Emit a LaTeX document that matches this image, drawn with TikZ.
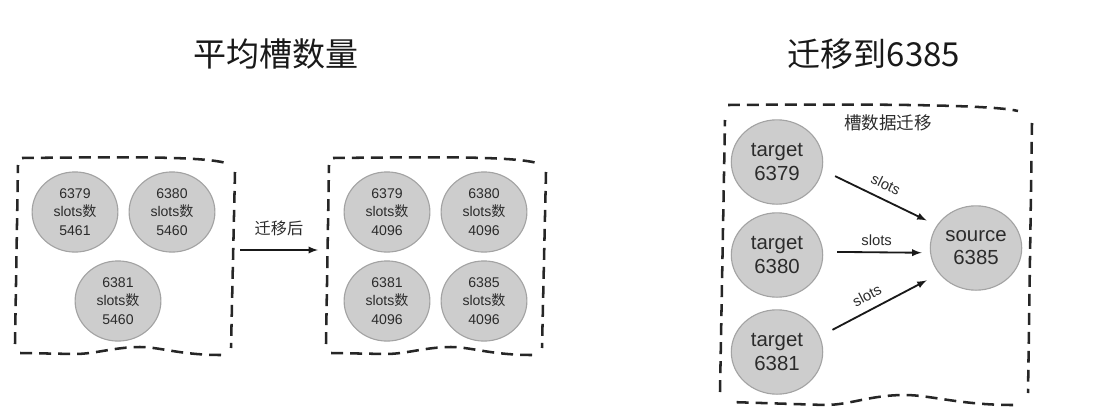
\documentclass[tikz,border=0pt]{standalone}
\usepackage{fontspec}
\setmainfont{Liberation Sans}
\newfontfamily\cjk{Noto Sans CJK SC}
\usetikzlibrary{arrows,shapes.geometric}
\definecolor{nodofill}{HTML}{CDCDCD}
\definecolor{nodobordo}{HTML}{A3A3A3}
\definecolor{testo}{HTML}{2B2B2B}
\tikzset{
	nodo/.style={ellipse, draw=nodobordo, fill=nodofill, line width=0.8pt, minimum width=61pt, minimum height=57pt, inner sep=0pt, align=center, text=testo, font=\fontsize{10}{13}\selectfont},
	nodogrande/.style={nodo, minimum width=65pt, minimum height=60pt, font=\fontsize{14.5}{16.5}\selectfont},
	bordo/.style={line width=1.8pt, dash pattern=on 8.5pt off 5pt, color=black!85},
	freccia/.style={->, >=latex, line width=1.3pt, color=black!90},
	etichetta/.style={text=testo, font=\fontsize{10.5}{12}\selectfont},
	titolo/.style={text=black!90, font=\cjk\fontsize{23.5}{28}\selectfont}
}
\begin{document}
\begin{tikzpicture}[x=0.025cm, y=-0.025cm]
		\useasboundingbox (0,0) rectangle (1104,414);
		%Titoli
		\node [titolo] (tit1) at (276,54) {平均槽数量};
		\node [titolo] (tit2) at (874,54) {迁移到6385};
		%Riquadro prima
		\draw [bordo] (22,158) .. controls (120,157) and (200,156) .. (226,163);
		\draw [bordo] (235,172) -- (231,348);
		\draw [bordo] (221,355) .. controls (180,355) and (160,347) .. (140,347) .. controls (115,347) and (95,354) .. (75,354) -- (20,353);
		\draw [bordo] (15,344) -- (18,165);
		\node [nodo] (p6379) at (75,212) {6379\\slots{\cjk 数}\\5461};
		\node [nodo] (p6380) at (172,212) {6380\\slots{\cjk 数}\\5460};
		\node [nodo] (p6381) at (118,301) {6381\\slots{\cjk 数}\\5460};
		%Freccia
		\coordinate (b1e) at (240,250);
		\coordinate (b2w) at (318,250);
		\draw [freccia] (b1e) -- (b2w) node [pos=0.5, above=6pt, etichetta, font=\cjk\fontsize{11.5}{13}\selectfont] {迁移后};
		%Riquadro dopo
		\begin{scope}[shift={(311,0)}]
			\draw [bordo] (22,158) .. controls (120,157) and (200,156) .. (226,163);
			\draw [bordo] (235,172) -- (231,348);
			\draw [bordo] (221,355) .. controls (180,355) and (160,347) .. (140,347) .. controls (115,347) and (95,354) .. (75,354) -- (20,353);
			\draw [bordo] (15,344) -- (18,165);
		\end{scope}
		\node [nodo] (q6379) at (387,212) {6379\\slots{\cjk 数}\\4096};
		\node [nodo] (q6380) at (484,212) {6380\\slots{\cjk 数}\\4096};
		\node [nodo] (q6381) at (387,301) {6381\\slots{\cjk 数}\\4096};
		\node [nodo] (q6385) at (484,301) {6385\\slots{\cjk 数}\\4096};
		%Riquadro migrazione
		\draw [bordo] (728,105) .. controls (850,104) and (990,104) .. (1018,111);
		\draw [bordo] (1032,123) -- (1028,393);
		\draw [bordo] (1013,405) .. controls (960,405) and (930,395) .. (905,395) .. controls (870,395) and (850,405) .. (825,405) -- (730,402);
		\draw [bordo] (720,392) -- (725,120);
		\node [etichetta, font=\cjk\fontsize{12.5}{14}\selectfont] (lblmig) at (888,123) {槽数据迁移};
		\node [nodogrande] (t6379) at (777,162) {target\\6379};
		\node [nodogrande] (t6380) at (777,255) {target\\6380};
		\node [nodogrande] (t6381) at (777,352) {target\\6381};
		\node [nodogrande] (s6385) at (976,248) {source\\6385};
		%Slots
		\draw [freccia, shorten <=10pt, shorten >=8pt] (t6379.-10) -- (s6385.150) node [pos=0.5, sloped, above=2.5pt, etichetta] {slots};
		\draw [freccia, shorten <=10pt, shorten >=6pt] (t6380.4) -- (s6385.186) node [pos=0.5, sloped, above=1pt, etichetta] {slots};
		\draw [freccia, shorten <=10pt, shorten >=10pt] (t6381.20) -- (s6385.215) node [pos=0.45, sloped, above=2.5pt, etichetta] {slots};
	\end{tikzpicture}
\end{document}
